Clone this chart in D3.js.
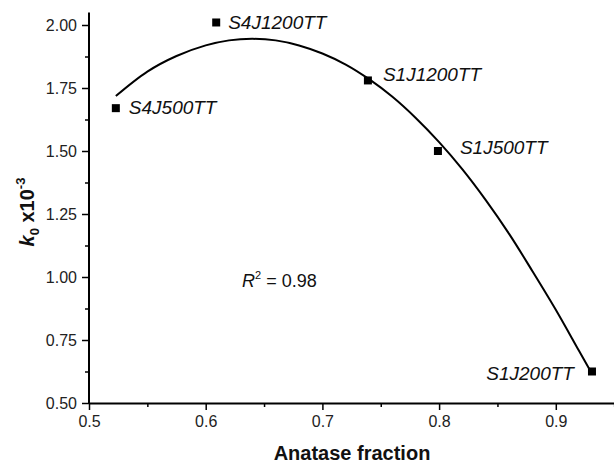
<!DOCTYPE html>
<html>
<head>
<meta charset="utf-8">
<script src="https://cdn.jsdelivr.net/npm/d3@7"></script>
<style>
  body { margin: 0; background: #fff; }
  svg { display: block; font-family: "Liberation Sans", Arial, sans-serif; }
</style>
</head>
<body>
<svg id="chart" width="614" height="463"></svg>
<script>
// sample points
const samples = ['S4J500TT', 'S4J1200TT', 'S1J1200TT', 'S1J500TT', 'S1J200TT'];
const anatase = [0.523, 0.609, 0.739, 0.799, 0.931];
const k0 = [1.67, 2.01, 1.78, 1.50, 0.625];

// fitted curve
const fitX = [0.523, 0.55, 0.575, 0.60, 0.62, 0.64, 0.66, 0.68, 0.70, 0.72, 0.74, 0.76, 0.78, 0.80, 0.82, 0.84, 0.86, 0.88, 0.90, 0.92, 0.931];
const fitY = [1.718, 1.815, 1.877, 1.919, 1.939, 1.945, 1.939, 1.919, 1.887, 1.843, 1.785, 1.715, 1.631, 1.535, 1.427, 1.305, 1.171, 1.023, 0.870, 0.706, 0.616];

const xTicks = [0.5, 0.6, 0.7, 0.8, 0.9];
const xMinor = [0.55, 0.65, 0.75, 0.85, 0.95];
const yTicks = [0.5, 0.75, 1.0, 1.25, 1.5, 1.75, 2.0];
const yMinor = [0.625, 0.875, 1.125, 1.375, 1.625, 1.875];

// label placement (dx, dy, anchor) per sample
const labelPos = {
  S4J500TT: [13, 6, 'start'],
  S4J1200TT: [12, 7, 'start'],
  S1J1200TT: [15, 1, 'start'],
  S1J500TT: [22, 3, 'start'],
  S1J200TT: [-18, 8, 'end']
};

const svg = d3.select('#chart');
const left = 89, bottom = 403;

const x = d3.scaleLinear().domain([0.5, 0.95]).range([left, left + 0.45 * 1167]);
const y = d3.scaleLinear().domain([0.5, 2.0]).range([bottom, 25]);

// axes
const gx = svg.append('g').attr('transform', `translate(0,${bottom})`);
gx.call(d3.axisBottom(x).tickValues(xTicks).tickFormat(d3.format('.1f')).tickSize(7).tickSizeOuter(0).tickPadding(6));
gx.append('g').call(d3.axisBottom(x).tickValues(xMinor).tickFormat('').tickSize(4).tickSizeOuter(0))
  .select('.domain').remove();

const gy = svg.append('g').attr('transform', `translate(${left},0)`);
gy.call(d3.axisLeft(y).tickValues(yTicks).tickFormat(d3.format('.2f')).tickSize(7).tickSizeOuter(0).tickPadding(5));
gy.append('g').call(d3.axisLeft(y).tickValues(yMinor).tickFormat('').tickSize(4).tickSizeOuter(0))
  .select('.domain').remove();
// extend y axis line a bit above 2.00
gy.select('.domain').attr('d', `M0,${bottom}V${y(2.05)}`);

svg.selectAll('.domain').attr('stroke', '#000').attr('stroke-width', 2);
svg.selectAll('.tick line').attr('stroke', '#000').attr('stroke-width', 1.5);
svg.selectAll('.tick text').attr('font-size', 16).attr('fill', '#222')
  .attr('font-family', '"Liberation Sans", Arial, sans-serif');

// fit line
const fit = fitX.map((d, i) => [d, fitY[i]]);
svg.append('path')
  .datum(fit)
  .attr('fill', 'none')
  .attr('stroke', '#000')
  .attr('stroke-width', 2)
  .attr('d', d3.line().x(d => x(d[0])).y(d => y(d[1])).curve(d3.curveCatmullRom));

// points
const pts = samples.map((s, i) => ({ name: s, x: anatase[i], y: k0[i] }));
svg.selectAll('rect.pt')
  .data(pts)
  .enter()
  .append('rect')
  .attr('class', 'pt')
  .attr('x', d => x(d.x) - 4)
  .attr('y', d => y(d.y) - 4)
  .attr('width', 8)
  .attr('height', 8)
  .attr('fill', '#000');

svg.selectAll('text.lbl')
  .data(pts)
  .enter()
  .append('text')
  .attr('class', 'lbl')
  .attr('x', d => x(d.x) + labelPos[d.name][0])
  .attr('y', d => y(d.y) + labelPos[d.name][1])
  .attr('text-anchor', d => labelPos[d.name][2])
  .attr('font-size', 19)
  .attr('font-style', 'italic')
  .attr('fill', '#111')
  .text(d => d.name);

// R^2
const r2 = svg.append('text').attr('x', 242).attr('y', 287).attr('font-size', 18).attr('fill', '#111');
r2.append('tspan').attr('font-style', 'italic').text('R');
r2.append('tspan').attr('font-size', 11).attr('dy', -8).text('2');
r2.append('tspan').attr('dy', 8).text(' = 0.98');

// axis titles
svg.append('text')
  .attr('x', 352).attr('y', 460)
  .attr('text-anchor', 'middle')
  .attr('font-size', 20).attr('font-weight', 'bold').attr('fill', '#111')
  .text('Anatase fraction');

const yt = svg.append('text')
  .attr('transform', 'translate(34,212) rotate(-90)')
  .attr('text-anchor', 'middle')
  .attr('font-size', 20).attr('font-weight', 'bold').attr('fill', '#111');
yt.append('tspan').attr('font-style', 'italic').text('k');
yt.append('tspan').attr('font-size', 13).attr('dy', 5).text('0');
yt.append('tspan').attr('dy', -5).text(' x10');
yt.append('tspan').attr('font-size', 13).attr('dy', -9).text('-3');
</script>
</body>
</html>
